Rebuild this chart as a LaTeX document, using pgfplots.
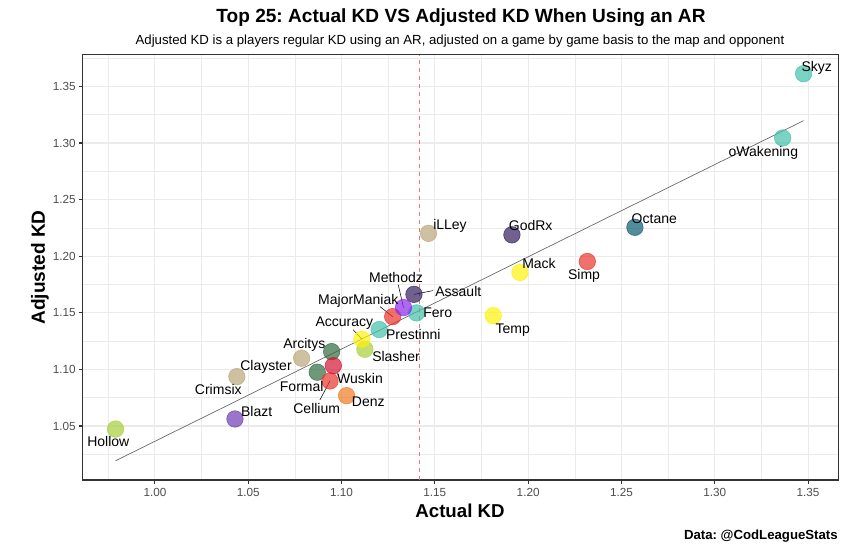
\documentclass[border=0pt]{standalone}
\usepackage{pgfplots}
\pgfplotsset{compat=1.18}
\usepackage{fontspec}
\setmainfont{Liberation Sans}
\frenchspacing
\definecolor{gridc}{RGB}{235,235,235}
\definecolor{c33}{RGB}{51,51,51}
\definecolor{c4d}{RGB}{77,77,77}
\definecolor{cYG}{RGB}{166,206,57}
\definecolor{cPur}{RGB}{110,60,178}
\definecolor{cTan}{RGB}{185,167,122}
\definecolor{cDG}{RGB}{50,108,66}
\definecolor{cRedA}{RGB}{212,20,50}
\definecolor{cRedB}{RGB}{232,52,45}
\definecolor{cOr}{RGB}{241,122,36}
\definecolor{cYel}{RGB}{255,241,10}
\definecolor{cTeal}{RGB}{66,192,170}
\definecolor{cVio}{RGB}{140,40,235}
\definecolor{cDP}{RGB}{52,30,95}
\definecolor{cOct}{RGB}{10,92,112}
\definecolor{cMean}{RGB}{228,120,120}
\newcommand{\pnt}[3]{\addplot[only marks, mark=*, mark size=6.2pt, color=#1,
  mark options={fill opacity=0.7, draw opacity=0.7, line width=0.5pt}] coordinates {(#2,#3)};}
\newcommand{\seg}[4]{\addplot[black, line width=0.4pt] coordinates {(#1,#2) (#3,#4)};}
\begin{document}
\begin{tikzpicture}
\path (0,0) rectangle (651pt,412.5pt);
\begin{axis}[
  at={(62.025pt,52.5pt)}, anchor=south west,
  width=566.7pt, height=319pt, scale only axis,
  xmin=0.9613, xmax=1.3662, ymin=1.0023, ymax=1.378,
  xtick={1.00,1.05,1.10,1.15,1.20,1.25,1.30,1.35},
  ytick={1.05,1.10,1.15,1.20,1.25,1.30,1.35},
  minor xtick={0.975,1.025,1.075,1.125,1.175,1.225,1.275,1.325},
  minor ytick={1.025,1.075,1.125,1.175,1.225,1.275,1.325,1.375},
  xticklabels={1.00,1.05,1.10,1.15,1.20,1.25,1.30,1.35},
  yticklabels={1.05,1.10,1.15,1.20,1.25,1.30,1.35},
  grid=both,
  major grid style={color=gridc, line width=0.8pt},
  minor grid style={color=gridc, line width=0.45pt},
  axis line style={color=c33, line width=0.8pt},
  tick style={color=c33, line width=0.8pt},
  tick align=outside, major tick length=2.8pt, minor tick length=0pt,
  xtick pos=bottom, ytick pos=left,
  ticklabel style={font=\fontsize{8.8}{10}\selectfont, text=c4d},
  xticklabel style={anchor=north, inner sep=0pt, yshift=-3.4pt},
  yticklabel style={anchor=east, inner sep=0pt, xshift=-2.2pt},
]
\addplot[cMean, line width=0.6pt, dash pattern=on 3pt off 3pt] coordinates {(1.1417,1.0023) (1.1417,1.378)};
\addplot[black!60, line width=0.5pt] coordinates {(0.9789,1.0193) (1.3476,1.3197)};
\pnt{cYG}{0.9789}{1.0473}
\pnt{cPur}{1.0429}{1.0562}
\pnt{cTan}{1.0439}{1.0936}
\pnt{cTan}{1.0786}{1.1099}
\pnt{cDG}{1.0870}{1.0975}
\pnt{cDG}{1.0947}{1.1157}
\pnt{cRedB}{1.0938}{1.0898}
\pnt{cRedA}{1.0956}{1.1033}
\pnt{cOr}{1.1027}{1.0768}
\pnt{cYG}{1.1125}{1.1178}
\pnt{cYel}{1.1109}{1.1267}
\pnt{cTeal}{1.1202}{1.1352}
\pnt{cRedB}{1.1274}{1.1466}
\pnt{cTeal}{1.1402}{1.1499}
\pnt{cDP}{1.1388}{1.1663}
\pnt{cVio}{1.1332}{1.1546}
\pnt{cTan}{1.1466}{1.2202}
\pnt{cDP}{1.1913}{1.2189}
\pnt{cYel}{1.1956}{1.1856}
\pnt{cYel}{1.1813}{1.1475}
\pnt{cRedB}{1.2317}{1.1953}
\pnt{cOct}{1.2572}{1.2255}
\pnt{cTeal}{1.3364}{1.3044}
\pnt{cTeal}{1.3476}{1.3612}
\seg{1.1304}{1.1747}{1.1332}{1.1546}
\seg{1.1491}{1.1696}{1.1388}{1.1663}
\seg{1.1206}{1.1555}{1.1274}{1.1466}
\seg{1.1063}{1.1349}{1.1109}{1.1267}
\seg{1.0884}{1.0730}{1.0938}{1.0898}
\end{axis}
\begin{scope}[x=0.75pt, y=-0.75pt, yshift=412.5pt]
\tikzset{lab/.style={font=\fontsize{10.5}{12}\selectfont, anchor=base, inner sep=0pt}}
\node[lab] at (108.3,447.0) {Hollow};
\node[lab] at (256.7,417.0) {Blazt};
\node[lab] at (218.3,394.7) {Crimsix};
\node[lab] at (266.0,370.4) {Clayster};
\node[lab] at (304.3,348.7) {Arcitys};
\node[lab] at (301.7,392.0) {Formal};
\node[lab] at (360.0,383.7) {Wuskin};
\node[lab] at (316.7,413.7) {Cellium};
\node[lab] at (368.3,406.4) {Denz};
\node[lab] at (344.3,327.0) {Accuracy};
\node[lab] at (396.0,361.4) {Slasher};
\node[lab] at (413.3,339.7) {Prestinni};
\node[lab] at (358.3,304.7) {MajorManiak};
\node[lab] at (396.0,282.4) {Methodz};
\node[lab] at (437.7,318.0) {Fero};
\node[lab] at (458.3,296.4) {Assault};
\node[lab] at (450.0,229.7) {iLLey};
\node[lab] at (530.7,230.7) {GodRx};
\node[lab] at (539.0,268.7) {Mack};
\node[lab] at (584.0,279.7) {Simp};
\node[lab] at (512.7,333.7) {Temp};
\node[lab] at (654.3,223.7) {Octane};
\node[lab] at (763.3,157.0) {oWakening};
\node[lab] at (816.7,71.4) {Skyz};
\node[anchor=base, inner sep=0pt, font=\bfseries\fontsize{14.3}{16}\selectfont] at (461,22.7) {Top 25: Actual KD VS Adjusted KD When Using an AR};
\node[anchor=base, inner sep=0pt, font=\fontsize{9.9}{12}\selectfont] at (460,45) {Adjusted KD is a players regular KD using an AR, adjusted on a game by game basis to the map and opponent};
\node[anchor=base, inner sep=0pt, font=\bfseries\fontsize{14}{16}\selectfont] at (460,517.7) {Actual KD};
\node[anchor=base, inner sep=0pt, rotate=90, font=\bfseries\fontsize{14.3}{16}\selectfont] at (45,267.5) {Adjusted KD};
\node[anchor=base east, inner sep=0pt, font=\bfseries\fontsize{9.9}{12}\selectfont] at (838,540) {Data: @CodLeagueStats};
\end{scope}
\end{tikzpicture}
\end{document}
